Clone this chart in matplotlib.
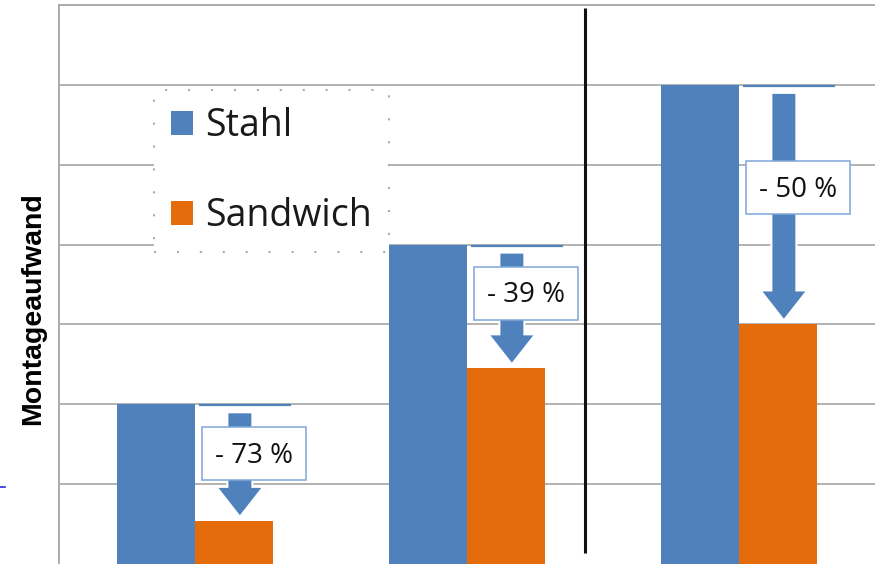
import matplotlib
matplotlib.use("Agg")
import matplotlib.pyplot as plt
from matplotlib.patches import Polygon, Rectangle, Patch
from matplotlib.lines import Line2D
import numpy as np

# ---- data ----
groups = ["A", "B", "C"]
stahl = [2.0, 4.0, 6.0]
sandwich = [0.54, 2.45, 3.0]
reduction_labels = ["- 73 %", "- 39 %", "- 50 %"]
series_names = ["Stahl", "Sandwich"]
y_label = "Montageaufwand"

# ---- style / layout ----
BLUE = "#4f81bd"
ORANGE = "#e46c0a"
GRID = "#a6a6a6"
BOX_EDGE = "#7ea6da"
W, H, DPI = 875, 564, 100

fig = plt.figure(figsize=(W / DPI, H / DPI), dpi=DPI)
ax = fig.add_axes([59 / W, 0, (W - 59) / W, (H - 5) / H])
ax.set_xlim(-0.5, 2.5)
ax.set_ylim(0, 7)

x = np.arange(len(groups))
bw = 0.287
ax.bar(x - bw / 2, stahl, width=bw, color=BLUE, zorder=2, label=series_names[0])
ax.bar(x + bw / 2, sandwich, width=bw, color=ORANGE, zorder=2, label=series_names[1])

# grid
ax.set_yticks(np.arange(1, 7))
ax.yaxis.grid(True, color=GRID, lw=1.2, zorder=0)
ax.tick_params(left=False, bottom=False, labelleft=False, labelbottom=False)
for s in ["right", "bottom"]:
    ax.spines[s].set_visible(False)
ax.spines["left"].set_color(GRID)
ax.spines["left"].set_linewidth(1.3)
ax.spines["top"].set_color(GRID)
ax.spines["top"].set_linewidth(1.3)

# separator line
ax.plot([1.434, 1.434], [0.14, 6.96], color="#111111", lw=2.2, zorder=5,
        solid_capstyle="butt")

# arrows + boxes
box_centers_y = [1.384, 3.393, 4.714]
line_x0, line_x1 = 0.015, 0.353
shaft_cx, shaft_w, head_w, head_len = 0.165, 0.092, 0.173, 0.376
box_cx, box_w, box_h = 0.217, 0.382, 0.664
for i in range(len(groups)):
    gx = x[i]
    top = stahl[i]
    ax.plot([gx + line_x0, gx + line_x1], [top - 0.015, top - 0.015],
            color=BLUE, lw=1.6, zorder=4, solid_capstyle="butt")
    y0 = top - 0.1
    tip = sandwich[i] + 0.05
    hb = tip + head_len
    cx = gx + shaft_cx
    verts = [(cx - shaft_w / 2, y0), (cx + shaft_w / 2, y0),
             (cx + shaft_w / 2, hb), (cx + head_w / 2, hb),
             (cx, tip), (cx - head_w / 2, hb), (cx - shaft_w / 2, hb)]
    ax.add_patch(Polygon(verts, closed=True, facecolor=BLUE, edgecolor="white",
                         lw=1.5, zorder=6))
    bx = gx + box_cx
    by = box_centers_y[i]
    ax.add_patch(Rectangle((bx - box_w / 2, by - box_h / 2), box_w, box_h,
                           facecolor="white", edgecolor=BOX_EDGE, lw=1.1, zorder=7))
    ax.text(bx, by - 0.03, reduction_labels[i], ha="center", va="center",
            fontsize=20, family="Open Sans", color="#111111", zorder=8)

# legend
handles = [Patch(facecolor=BLUE, edgecolor="none"),
           Patch(facecolor=ORANGE, edgecolor="none")]
leg = ax.legend(handles, series_names, loc="upper left",
                bbox_to_anchor=(154 / W, 1 - 90 / H), bbox_transform=fig.transFigure,
                borderaxespad=0, prop={"family": "Open Sans", "size": 27},
                handlelength=0.6, handleheight=0.6, handletextpad=0.32,
                borderpad=0.45, labelspacing=1.39, fancybox=False,
                framealpha=1, edgecolor="#aaaaaa")
leg.get_frame().set_linestyle((0, (1, 10)))
leg.get_frame().set_linewidth(1.5)
leg.set_zorder(9)
for t in leg.get_texts():
    t.set_color("#1a1a1a")

# y label
fig.text(33 / W, 1 - 309 / H, y_label, rotation=90, ha="center", va="center",
         fontsize=20.5, fontweight="bold", family="Liberation Sans")

# small blue mark at left edge
fig.add_artist(Line2D([0, 5 / W], [1 - 487 / H] * 2, color="#2b2bd6", lw=1.2))

fig.savefig("out.png", dpi=DPI)
